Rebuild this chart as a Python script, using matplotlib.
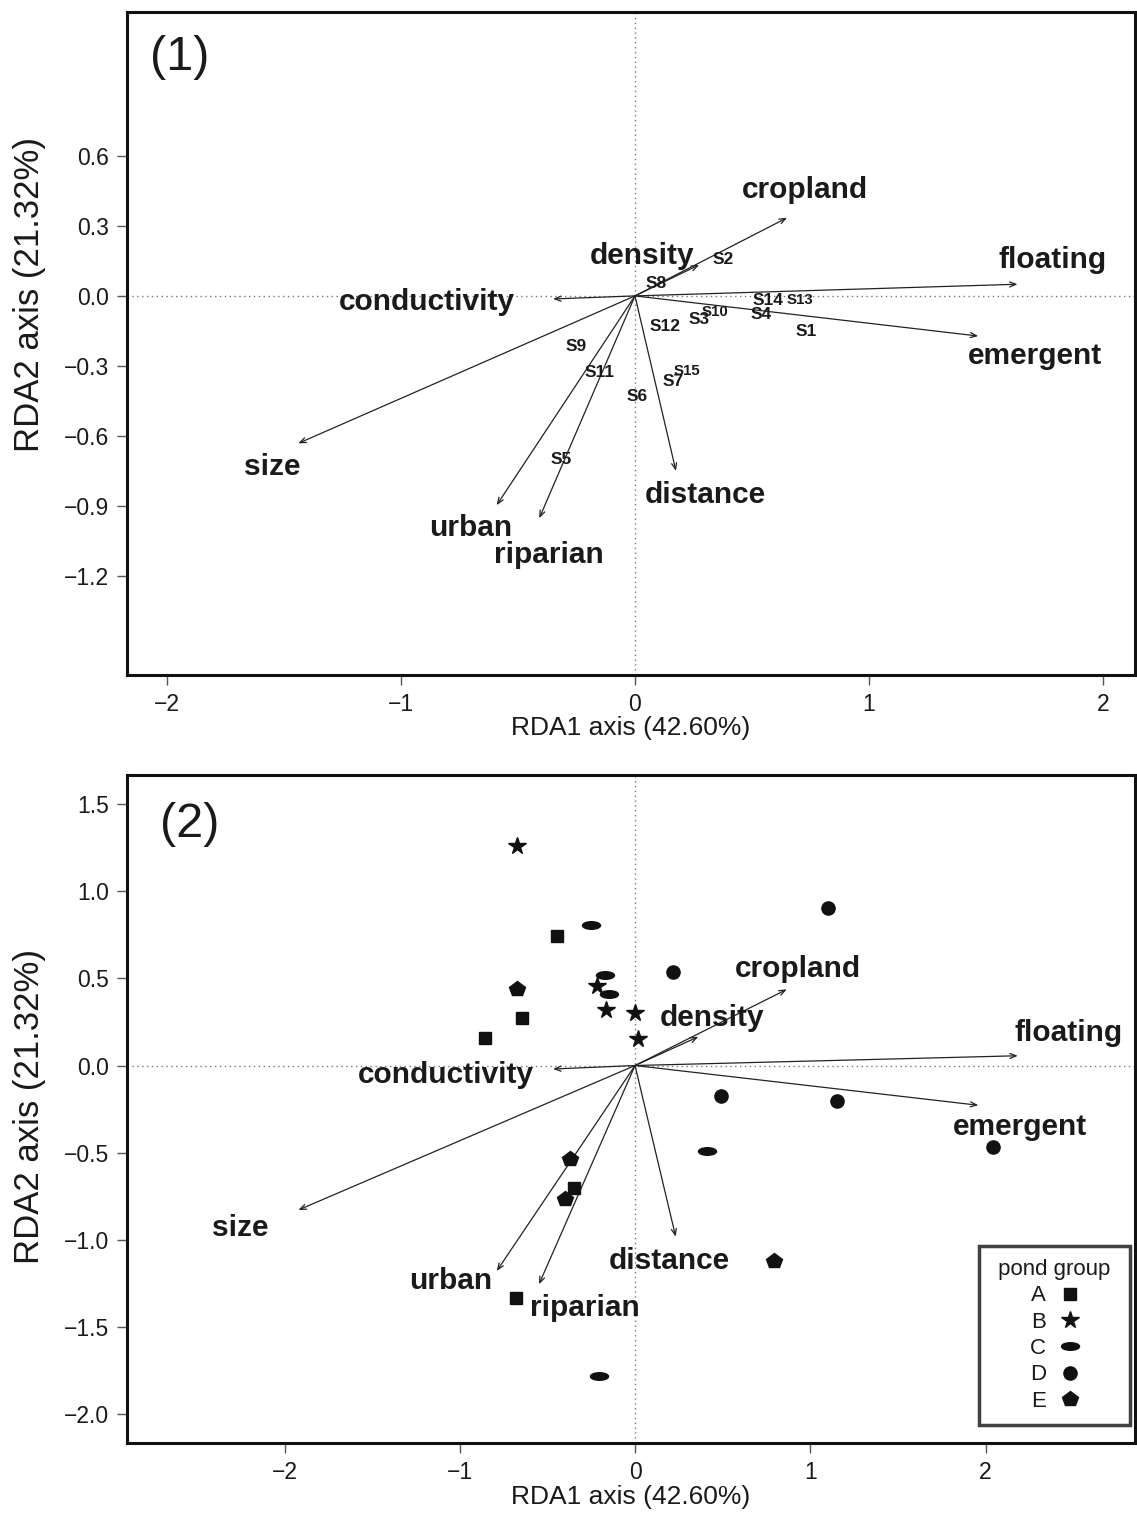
import matplotlib
matplotlib.use("Agg")
import matplotlib.pyplot as plt
from matplotlib.path import Path
from matplotlib.lines import Line2D
import numpy as np

plt.rcParams['font.family'] = ['Liberation Sans', 'DejaVu Sans']

# ---------------- data ----------------
env_vars = ["cropland", "density", "floating", "emergent", "conductivity",
            "size", "urban", "riparian", "distance"]
# panel 1 arrow tips
env1_x = [0.65, 0.274, 1.635, 1.467, -0.35, -1.439, -0.591, -0.409, 0.175]
env1_y = [0.335, 0.133, 0.050, -0.172, -0.013, -0.632, -0.897, -0.953, -0.750]
# panel 1 label positions
lab1_x = [0.726, 0.030, 1.786, 1.709, -0.889, -1.551, -0.701, -0.368, 0.299]
lab1_y = [0.454, 0.171, 0.154, -0.257, -0.026, -0.733, -0.994, -1.110, -0.853]
# panel 2 arrow tips
env2_x = [0.866, 0.361, 2.184, 1.959, -0.468, -1.921, -0.789, -0.548, 0.232]
env2_y = [0.437, 0.165, 0.056, -0.228, -0.020, -0.829, -1.179, -1.255, -0.982]
# panel 2 label positions
lab2_x = [0.932, 0.438, 2.476, 2.197, -1.078, -2.254, -1.050, -0.285, 0.194]
lab2_y = [0.552, 0.271, 0.186, -0.353, -0.055, -0.932, -1.236, -1.391, -1.122]

sites = ["S1", "S2", "S3", "S4", "S5", "S6", "S7", "S8", "S9", "S10",
         "S11", "S12", "S13", "S14", "S15"]
site_x = [0.731, 0.377, 0.274, 0.540, -0.315, 0.009, 0.164, 0.090, -0.252,
          0.343, -0.153, 0.128, 0.705, 0.570, 0.221]
site_y = [-0.153, 0.154, -0.103, -0.081, -0.703, -0.432, -0.367, 0.054,
          -0.217, -0.067, -0.329, -0.129, -0.017, -0.020, -0.321]
site_small = ["S10", "S13", "S15"]

groups = ["A", "B", "C", "D", "E"]
A_x = [-0.447, -0.643, -0.854, -0.346, -0.679]
A_y = [0.742, 0.270, 0.157, -0.705, -1.332]
B_x = [-0.672, -0.219, -0.165, 0.002, 0.019]
B_y = [1.259, 0.459, 0.316, 0.300, 0.153]
C_x = [-0.253, -0.169, -0.147, 0.413, -0.204]
C_y = [0.809, 0.520, 0.411, -0.492, -1.779]
D_x = [0.219, 1.100, 0.490, 1.154, 2.043]
D_y = [0.535, 0.902, -0.173, -0.204, -0.469]
E_x = [-0.672, -0.371, -0.400, 0.793]
E_y = [0.440, -0.535, -0.766, -1.123]

xticks1 = [-2, -1, 0, 1, 2]
yticks1 = [0.6, 0.3, 0.0, -0.3, -0.6, -0.9, -1.2]
xticks2 = [-2, -1, 0, 1, 2]
yticks2 = [1.5, 1.0, 0.5, 0.0, -0.5, -1.0, -1.5, -2.0]

xlabel = "RDA1 axis (42.60%)"
ylabel = "RDA2 axis (21.32%)"

# ---------------- style ----------------
TXT = "#1a1a1a"
PT = "#111111"
ellipse = Path.unit_circle().transformed(matplotlib.transforms.Affine2D().scale(1.0, 0.42))
markers = {"A": ("s", 9), "B": ("*", 13), "C": (ellipse, 13), "D": ("o", 9.5), "E": ("p", 11.5)}

fig = plt.figure(figsize=(11.37, 15.28), dpi=100)
W, H = 1137.0, 1528.0

def make_ax(left, top, right, bottom):
    return fig.add_axes([left / W, 1 - bottom / H, (right - left) / W, (bottom - top) / H])

ax1 = make_ax(127, 12, 1135, 675)
ax2 = make_ax(127, 775, 1135, 1443)

def style_axis(ax, xt, yt, xl, yl):
    ax.set_xlim(*xl)
    ax.set_ylim(*yl)
    ax.set_xticks(xt)
    ax.set_yticks(yt)
    ax.set_xticklabels([("−%d" % -v) if v < 0 else "%d" % v for v in xt])
    ax.set_yticklabels([("−%.1f" % -v) if v < 0 else "%.1f" % v for v in yt])
    for s in ax.spines.values():
        s.set_linewidth(2.2)
        s.set_color("#111111")
    ax.tick_params(axis="both", direction="out", length=7, width=1, color="#555555",
                   labelsize=16.5, labelcolor=TXT)
    ax.tick_params(axis="x", pad=6)
    ax.tick_params(axis="y", pad=6)
    ax.axhline(0, color="#777777", lw=1, ls=(0, (1, 2.5)), zorder=0)
    ax.axvline(0, color="#777777", lw=1, ls=(0, (1, 2.5)), zorder=0)
    ax.set_xlabel(xlabel, fontsize=19, color=TXT)
    ax.set_ylabel(ylabel, fontsize=25, color=TXT)

def arrows(ax, xs, ys):
    for x, y in zip(xs, ys):
        ax.annotate("", xy=(x, y), xytext=(0, 0),
                    arrowprops=dict(arrowstyle="->,head_length=0.45,head_width=0.18",
                                    lw=0.9, color="#222222", shrinkA=0, shrinkB=0))

# ---------- panel 1 ----------
style_axis(ax1, xticks1, yticks1, (-2.171, 2.137), (-1.625, 1.217))
ax1.xaxis.set_label_coords(0.5, -0.08)
ax1.xaxis.label.set_va("center")
ax1.yaxis.set_label_coords((30 - 127) / 1008, (675 - 295) / 663)
ax1.yaxis.label.set_va("center")
arrows(ax1, env1_x, env1_y)
for name, x, y in zip(env_vars, lab1_x, lab1_y):
    ax1.text(x, y, name, fontsize=21.5, fontweight="bold", color=TXT, ha="center", va="center")
for name, x, y in zip(sites, site_x, site_y):
    fs = 10.8 if name in site_small else 12.5
    ax1.text(x, y, name, fontsize=fs, fontweight="bold", color=TXT, ha="center", va="center")
ax1.text((180 - 127) / 1008, (675 - 58) / 663, "(1)", transform=ax1.transAxes,
         fontsize=35, color=TXT, ha="center", va="center")

# ---------- panel 2 ----------
style_axis(ax2, xticks2, yticks2, (-2.899, 2.853), (-2.166, 1.667))
ax2.xaxis.set_label_coords(0.5, -0.081)
ax2.xaxis.label.set_va("center")
ax2.yaxis.set_label_coords((30 - 127) / 1008, (1443 - 1107) / 668)
ax2.yaxis.label.set_va("center")
arrows(ax2, env2_x, env2_y)
for name, x, y in zip(env_vars, lab2_x, lab2_y):
    ax2.text(x, y, name, fontsize=21.5, fontweight="bold", color=TXT, ha="center", va="center")

group_data = {"A": (A_x, A_y), "B": (B_x, B_y), "C": (C_x, C_y), "D": (D_x, D_y), "E": (E_x, E_y)}
handles = []
for g in groups:
    xs, ys = group_data[g]
    m, ms = markers[g]
    ax2.plot(xs, ys, ls="none", marker=m, markersize=ms, color=PT, mec=PT, zorder=3)
    handles.append(Line2D([], [], ls="none", marker=m, markersize=ms, color=PT, mec=PT))

ax2.text((190 - 127) / 1008, (1443 - 825) / 668, "(2)", transform=ax2.transAxes,
         fontsize=35, color=TXT, ha="center", va="center")

leg = ax2.legend(handles, groups, title=" pond group ", loc="lower right",
                 bbox_to_anchor=((1130 - 127) / 1008, (1443 - 1425) / 668),
                 markerfirst=False, fancybox=False, frameon=True, fontsize=16,
                 title_fontsize=16, labelspacing=0.24, handlelength=0.8,
                 handletextpad=0.7, borderpad=0.6, borderaxespad=0)
leg.get_frame().set_edgecolor("#111111")
leg.get_frame().set_linewidth(2.5)
leg._legend_box.align = "center"
for t in leg.get_texts():
    t.set_color(TXT)
leg.get_title().set_color(TXT)

fig.savefig("out.png", dpi=100)
